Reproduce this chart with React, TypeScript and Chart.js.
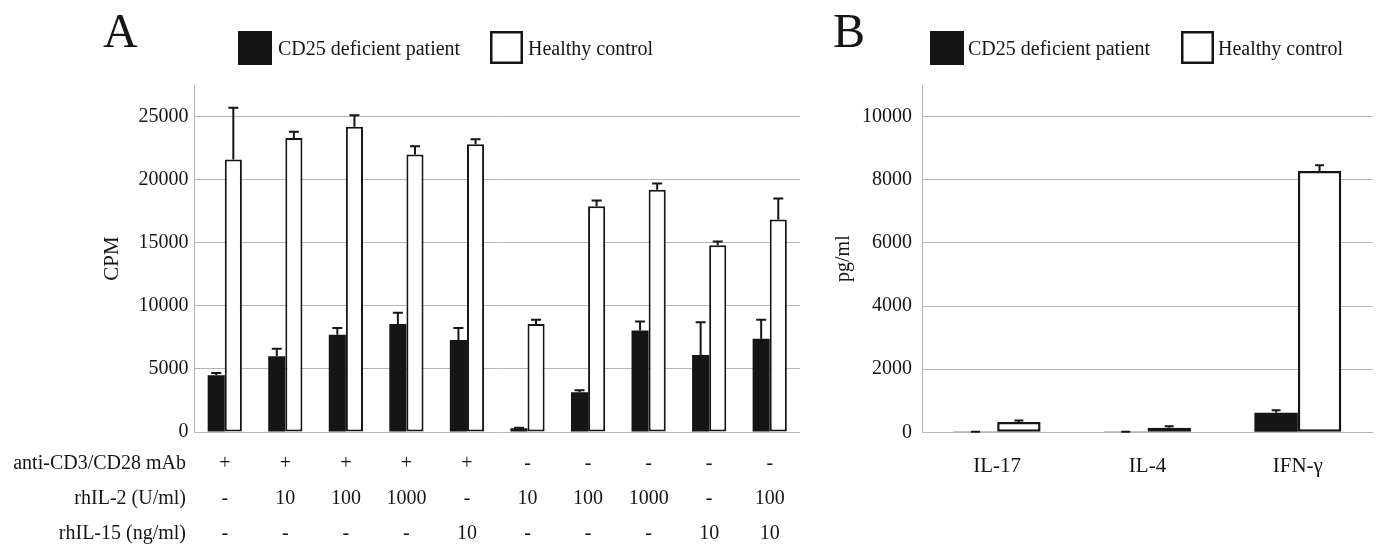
import React, { useEffect, useRef } from "react";
import { Chart, registerables } from "chart.js";

Chart.register(...registerables);

// ---------- Panel A data ----------
const antiCD3 = ["+", "+", "+", "+", "+", "-", "-", "-", "-", "-"];
const rhIL2 = ["-", "10", "100", "1000", "-", "10", "100", "1000", "-", "100"];
const rhIL15 = ["-", "-", "-", "-", "10", "-", "-", "-", "10", "10"];
const tableRowLabels = ["anti-CD3/CD28 mAb", "rhIL-2 (U/ml)", "rhIL-15 (ng/ml)"];
const conditionLabels = antiCD3.map((a, i) => `${a} / ${rhIL2[i]} / ${rhIL15[i]}`);

const patientCPM = [4500, 6000, 7700, 8550, 7300, 300, 3150, 8050, 6100, 7400];
const patientCPMErr = [170, 600, 550, 900, 950, 40, 150, 700, 2600, 1500];
const controlCPM = [21600, 23300, 24200, 22000, 22800, 8550, 17900, 19200, 14800, 16850];
const controlCPMErr = [4100, 500, 900, 650, 400, 350, 450, 500, 300, 1650];
const yTicksA = [0, 5000, 10000, 15000, 20000, 25000];

// ---------- Panel B data ----------
const cytokines = ["IL-17", "IL-4", "IFN-γ"];
const patientPg = [8, 8, 620];
const patientPgErr = [8, 8, 75];
const controlPg = [330, 145, 8275];
const controlPgErr = [40, 45, 185];
const yTicksB = [0, 2000, 4000, 6000, 8000, 10000];

const seriesNames = ["CD25 deficient patient", "Healthy control"];

const FONT = '"Liberation Serif", "Times New Roman", serif';
const INK = "#151515";
const GRID = "#b5b5b5";

const errorBarPlugin = {
  id: "errorBars",
  afterDatasetsDraw(chart: any, _args: any, opts: any) {
    const ctx = chart.ctx;
    const yScale = chart.scales.y;
    chart.data.datasets.forEach((ds: any, di: number) => {
      const errs = opts.errors[di];
      if (!errs) return;
      const meta = chart.getDatasetMeta(di);
      meta.data.forEach((bar: any, i: number) => {
        const v = ds.data[i];
        const e = errs[i];
        const x = bar.x;
        const yBar = yScale.getPixelForValue(v);
        const yTop = yScale.getPixelForValue(v + e);
        ctx.save();
        ctx.strokeStyle = INK;
        ctx.lineWidth = opts.lineWidth;
        ctx.beginPath();
        ctx.moveTo(x, yBar);
        ctx.lineTo(x, yTop);
        ctx.moveTo(x - opts.cap / 2, yTop);
        ctx.lineTo(x + opts.cap / 2, yTop);
        ctx.stroke();
        ctx.restore();
      });
    });
  },
};

const decorPlugin = {
  id: "panelDecor",
  afterDraw(chart: any, _args: any, opts: any) {
    const ctx = chart.ctx;
    ctx.save();
    ctx.textBaseline = "alphabetic";
    ctx.fillStyle = INK;
    ctx.font = `48px ${FONT}`;
    ctx.textAlign = "left";
    ctx.fillText(opts.letter, opts.letterX, 47);

    ctx.font = `20px ${FONT}`;
    opts.legend.forEach((item: any, i: number) => {
      const label = chart.data.datasets[i].label;
      if (item.filled) {
        ctx.fillStyle = INK;
        ctx.fillRect(item.boxX, 31, 34, 34);
      } else {
        ctx.strokeStyle = INK;
        ctx.lineWidth = 2.5;
        ctx.strokeRect(item.boxX + 1.25, 32.25, 30.5, 30.5);
      }
      ctx.fillStyle = INK;
      ctx.fillText(label, item.textX, 55);
    });

    if (opts.table) {
      const xScale = chart.scales.x;
      const rows = opts.table.rows;
      rows.forEach((row: string[], r: number) => {
        const yb = opts.table.baselines[r];
        ctx.textAlign = "right";
        ctx.fillText(opts.table.labels[r], opts.table.labelRight, yb);
        ctx.textAlign = "center";
        row.forEach((txt: string, i: number) => {
          ctx.fillText(txt, xScale.getPixelForValue(i), yb);
        });
      });
    }
    ctx.restore();
  },
};

const plainTick = (v: any) => String(v);

function ChartA() {
  const ref = useRef<HTMLCanvasElement | null>(null);
  useEffect(() => {
    if (!ref.current) return;
    const chart = new Chart(ref.current, {
      type: "bar",
      data: {
        labels: conditionLabels,
        datasets: [
          {
            label: seriesNames[0],
            data: patientCPM,
            backgroundColor: INK,
            borderWidth: 0,
          },
          {
            label: seriesNames[1],
            data: controlCPM,
            backgroundColor: "#ffffff",
            borderColor: INK,
            borderWidth: 2,
            borderSkipped: false,
          },
        ],
      },
      options: {
        responsive: false,
        animation: false,
        devicePixelRatio: 1,
        datasets: { bar: { categoryPercentage: 0.565, barPercentage: 1 } },
        layout: { padding: { left: 100, right: 20, top: 85, bottom: 113 } },
        plugins: {
          legend: { display: false },
          tooltip: { enabled: false },
          errorBars: { errors: [patientCPMErr, controlCPMErr], cap: 10, lineWidth: 2 },
          panelDecor: {
            letter: "A",
            letterX: 103,
            legend: [
              { filled: true, boxX: 238, textX: 278 },
              { filled: false, boxX: 490, textX: 528 },
            ],
            table: {
              rows: [antiCD3, rhIL2, rhIL15],
              labels: tableRowLabels,
              labelRight: 186,
              baselines: [469, 504, 539],
            },
          },
        } as any,
        scales: {
          x: {
            display: false,
          },
          y: {
            min: 0,
            max: 27500,
            afterFit: (s: any) => {
              s.width = 94.5;
            },
            afterBuildTicks: (s: any) => {
              s.ticks = yTicksA.map((v) => ({ value: v }));
            },
            grid: { color: GRID, drawTicks: false, lineWidth: 1 },
            border: { color: GRID, width: 1 },
            ticks: {
              padding: 6,
              color: INK,
              callback: plainTick,
              font: { family: FONT, size: 20 },
            },
            title: {
              display: true,
              text: "CPM",
              color: INK,
              padding: 0,
              font: { family: FONT, size: 21 },
            },
          },
        },
      },
      plugins: [errorBarPlugin, decorPlugin],
    });
    return () => chart.destroy();
  }, []);
  return (
    <canvas
      ref={ref}
      width={820}
      height={545}
      style={{ position: "absolute", left: 0, top: 0, width: 820, height: 545 }}
    />
  );
}

function ChartB() {
  const ref = useRef<HTMLCanvasElement | null>(null);
  useEffect(() => {
    if (!ref.current) return;
    const chart = new Chart(ref.current, {
      type: "bar",
      data: {
        labels: cytokines,
        datasets: [
          {
            label: seriesNames[0],
            data: patientPg,
            backgroundColor: INK,
            borderWidth: 0,
          },
          {
            label: seriesNames[1],
            data: controlPg,
            backgroundColor: "#ffffff",
            borderColor: INK,
            borderWidth: 2.5,
            borderSkipped: false,
          },
        ],
      },
      options: {
        responsive: false,
        animation: false,
        devicePixelRatio: 1,
        datasets: { bar: { categoryPercentage: 0.578, barPercentage: 1 } },
        layout: { padding: { left: 12, right: 5, top: 85, bottom: 0 } },
        plugins: {
          legend: { display: false },
          tooltip: { enabled: false },
          errorBars: { errors: [patientPgErr, controlPgErr], cap: 9, lineWidth: 2 },
          panelDecor: {
            letter: "B",
            letterX: 13,
            legend: [
              { filled: true, boxX: 110, textX: 148 },
              { filled: false, boxX: 361, textX: 398 },
            ],
          },
        } as any,
        scales: {
          x: {
            afterFit: (s: any) => {
              s.height = 112.7;
            },
            grid: { display: false },
            border: { display: false },
            ticks: {
              padding: 14,
              color: INK,
              font: { family: FONT, size: 21 },
            },
          },
          y: {
            min: 0,
            max: 11000,
            afterFit: (s: any) => {
              s.width = 90;
            },
            afterBuildTicks: (s: any) => {
              s.ticks = yTicksB.map((v) => ({ value: v }));
            },
            grid: { color: GRID, drawTicks: false, lineWidth: 1 },
            border: { color: GRID, width: 1 },
            ticks: {
              padding: 10,
              color: INK,
              callback: plainTick,
              font: { family: FONT, size: 20 },
            },
            title: {
              display: true,
              text: "pg/ml",
              color: INK,
              padding: 0,
              font: { family: FONT, size: 20 },
            },
          },
        },
      },
      plugins: [errorBarPlugin, decorPlugin],
    });
    return () => chart.destroy();
  }, []);
  return (
    <canvas
      ref={ref}
      width={558}
      height={545}
      style={{ position: "absolute", left: 820, top: 0, width: 558, height: 545 }}
    />
  );
}

export default function App() {
  return (
    <div
      style={{
        position: "absolute",
        left: 0,
        top: 0,
        width: 1378,
        height: 545,
        background: "#ffffff",
        overflow: "hidden",
      }}
    >
      <ChartA />
      <ChartB />
    </div>
  );
}
